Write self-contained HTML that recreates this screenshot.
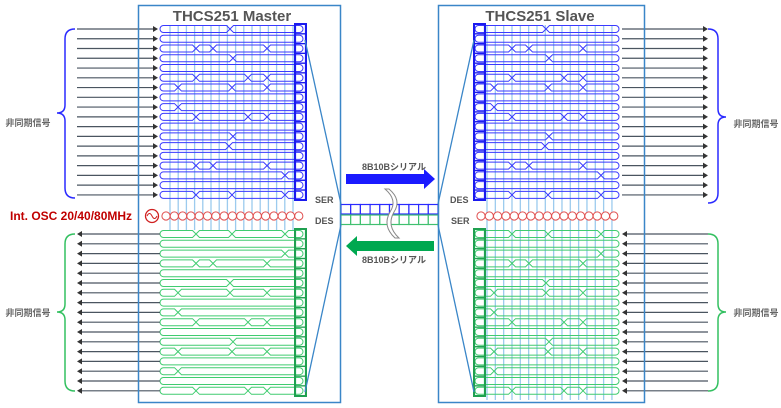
<!DOCTYPE html>
<html><head><meta charset="utf-8">
<style>
html,body{margin:0;padding:0;background:#fff;width:781px;height:408px;overflow:hidden}
svg{display:block}
text{font-family:"Liberation Sans","Noto Sans CJK JP",sans-serif}
</style></head>
<body>
<svg id="s" width="781" height="408" viewBox="0 0 781 408" xmlns="http://www.w3.org/2000/svg">
<g id="g"></g>
<!-- boxes -->
<rect x="138.5" y="5.5" width="202" height="397" fill="none" stroke="#3a86c8" stroke-width="1.5"/>
<rect x="438.5" y="5.5" width="206" height="397" fill="none" stroke="#3a86c8" stroke-width="1.5"/>
<text x="232" y="21" font-size="15" font-weight="bold" fill="#555" text-anchor="middle">THCS251 Master</text>
<text x="540" y="21" font-size="15" font-weight="bold" fill="#555" text-anchor="middle">THCS251 Slave</text>
<text x="10" y="220" font-size="12" font-weight="bold" fill="#c00000">Int. OSC 20/40/80MHz</text>
<text x="28" y="126" font-size="9" font-weight="bold" fill="#666" text-anchor="middle">非同期信号</text>
<text x="28" y="316" font-size="9" font-weight="bold" fill="#666" text-anchor="middle">非同期信号</text>
<text x="756" y="127" font-size="9" font-weight="bold" fill="#666" text-anchor="middle">非同期信号</text>
<text x="756" y="316" font-size="9" font-weight="bold" fill="#666" text-anchor="middle">非同期信号</text>
<text x="315" y="203" font-size="9" font-weight="bold" fill="#555">SER</text>
<text x="315" y="224" font-size="9" font-weight="bold" fill="#555">DES</text>
<text x="450" y="203" font-size="9" font-weight="bold" fill="#555">DES</text>
<text x="451" y="224" font-size="9" font-weight="bold" fill="#555">SER</text>
<text x="394" y="170" font-size="9" font-weight="bold" fill="#555" text-anchor="middle">8B10Bシリアル</text>
<text x="394" y="263" font-size="9" font-weight="bold" fill="#555" text-anchor="middle">8B10Bシリアル</text>
<!-- big arrows -->
<polygon points="346,174 424,174 424,169 435,179 424,189 424,184 346,184" fill="#1a1aff"/>
<polygon points="434,241 357,241 357,236 346,246 357,256 357,251 434,251" fill="#00a850"/>
<!-- braces -->
<path d="M75,29 Q65,29 65,39 L65,105 Q65,113 57,113 Q65,113 65,121 L65,188 Q65,198 75,198" fill="none" stroke="#2a2aff" stroke-width="1.5"/>
<path d="M75,234 Q65,234 65,244 L65,304 Q65,312 57,312 Q65,312 65,320 L65,381 Q65,391 75,391" fill="none" stroke="#33c060" stroke-width="1.5"/>
<path d="M708,29 Q718,29 718,39 L718,109 Q718,117 726,117 Q718,117 718,125 L718,193 Q718,203 708,203" fill="none" stroke="#2a2aff" stroke-width="1.5"/>
<path d="M708,234 Q718,234 718,244 L718,304 Q718,312 726,312 Q718,312 718,320 L718,381 Q718,391 708,391" fill="none" stroke="#33c060" stroke-width="1.5"/>
</svg>
<script>
var g=document.getElementById('g'),h='';
function L(x1,y1,x2,y2,c,w){h+='<line x1="'+x1+'" y1="'+y1+'" x2="'+x2+'" y2="'+y2+'" stroke="'+c+'" stroke-width="'+(w||1)+'"/>';}
var V='#9ccbee';
// verticals
for(var i=0;i<16;i++){var x=170+8.2*i;L(x,25,x,230,V,1.3);}
for(var i=0;i<16;i++){var x=487+8.33*i;L(x,25,x,400,V,1.3);}
function row(x0,x1,y,cr,col){var pts=[x0].concat(cr).concat([x1]);
 for(var k=0;k<pts.length-1;k++){var a=pts[k],b=pts[k+1],r=3.5;
  var d='M'+(a+r)+','+(y-r)+' L'+(b-r)+','+(y-r);
  d+= (k==pts.length-2)?' A'+r+','+r+' 0 0 1 '+(b-r)+','+(y+r):' L'+b+','+y+' L'+(b-r)+','+(y+r);
  d+=' L'+(a+r)+','+(y+r);
  d+= (k==0)?' A'+r+','+r+' 0 0 1 '+(a+r)+','+(y-r):' L'+a+','+y+' Z';
  h+='<path d="'+d+'" fill="none" stroke="'+col+'" stroke-width="1"/>';}}
var B=[[230],[],[196,213,267],[233],[],[196,248,267],[178,232,267],[],[178],[196,248,267],[],[233],[229],[],[196,213,267],[285],[],[196,232,285]];
var G=[[196,232,285],[],[285],[196,213,267],[],[230],[178,230,267],[],[178],[196,248,267],[],[233],[178,232,267],[],[178],[],[196,248,267]];
var BC='#3a3aff',GC='#40cc70',DK='#4a5560';
function arrR(x1,x2,y){L(x1,y,x2-4,y,DK,1.2);h+='<polygon points="'+(x2-5)+','+(y-3)+' '+x2+','+y+' '+(x2-5)+','+(y+3)+'" fill="#333"/>';}
function arrL(x1,x2,y){L(x1+4,y,x2,y,DK,1.2);h+='<polygon points="'+(x1+5)+','+(y-3)+' '+x1+','+y+' '+(x1+5)+','+(y+3)+'" fill="#333"/>';}
for(var i=0;i<18;i++){var y=29+i*9.76;
 row(160,303,y,B[i],BC); row(475,619,y,B[i].map(function(v){return v+316}),BC);
 arrR(77,158,y); arrR(622,708,y);
 h+='<rect x="295.5" y="'+(y-4.9)+'" width="10" height="9.76" fill="none" stroke="#1a1aee" stroke-width="1.2"/>';
 h+='<rect x="474.5" y="'+(y-4.9)+'" width="10" height="9.76" fill="none" stroke="#1a1aee" stroke-width="1.2"/>';}
h+='<rect x="295" y="24" width="11" height="176" fill="none" stroke="#1a1aee" stroke-width="2"/>';
h+='<rect x="474" y="24" width="11" height="176" fill="none" stroke="#1a1aee" stroke-width="2"/>';
for(var i=0;i<17;i++){var y=234+i*9.8;
 row(160,303,y,G[i],GC); row(475,619,y,G[i].map(function(v){return v+316}),GC);
 arrL(77,160,y); arrL(622,708,y);
 h+='<rect x="295.5" y="'+(y-4.9)+'" width="10" height="9.8" fill="none" stroke="#1fa050" stroke-width="1.2"/>';
 h+='<rect x="474.5" y="'+(y-4.9)+'" width="10" height="9.8" fill="none" stroke="#1fa050" stroke-width="1.2"/>';}
h+='<rect x="295" y="229" width="11" height="167" fill="none" stroke="#1fa050" stroke-width="2"/>';
h+='<rect x="474" y="229" width="11" height="167" fill="none" stroke="#1fa050" stroke-width="2"/>';
// clocks
for(var i=0;i<17;i++){h+='<circle cx="'+(166+8.3*i)+'" cy="216" r="4.1" fill="#fff" stroke="#e05050" stroke-width="1"/>';
 h+='<circle cx="'+(481+8.3*i)+'" cy="216" r="4.1" fill="#fff" stroke="#e05050" stroke-width="1"/>';}
h+='<circle cx="152" cy="216" r="6.5" fill="#fff" stroke="#d02020" stroke-width="1.3"/><path d="M147,216 Q149.5,211 152,216 Q154.5,221 157,216" fill="none" stroke="#d02020" stroke-width="1"/>';
// funnels
L(305,40,341,204,'#3a86c8',1.3);L(305,392,341,225,'#3a86c8',1.3);
L(474,40,438,204,'#3a86c8',1.3);L(474,392,438,225,'#3a86c8',1.3);
// lanes
for(var i=0;i<10;i++){var x=341+9.7*i;
 h+='<rect x="'+x+'" y="204.5" width="9.7" height="9.5" fill="#fff" stroke="#2a2aff" stroke-width="1.2"/>';
 h+='<rect x="'+x+'" y="215" width="9.7" height="9.5" fill="#fff" stroke="#40c070" stroke-width="1.2"/>';}
// wavy break
h+='<path d="M385,189 Q398,200 390,212 Q382,226 395,238 L399,238 Q386,226 394,212 Q402,200 389,189 Z" fill="#fff" stroke="#888" stroke-width="1"/>';
g.innerHTML=h;
</script>
</body></html>
